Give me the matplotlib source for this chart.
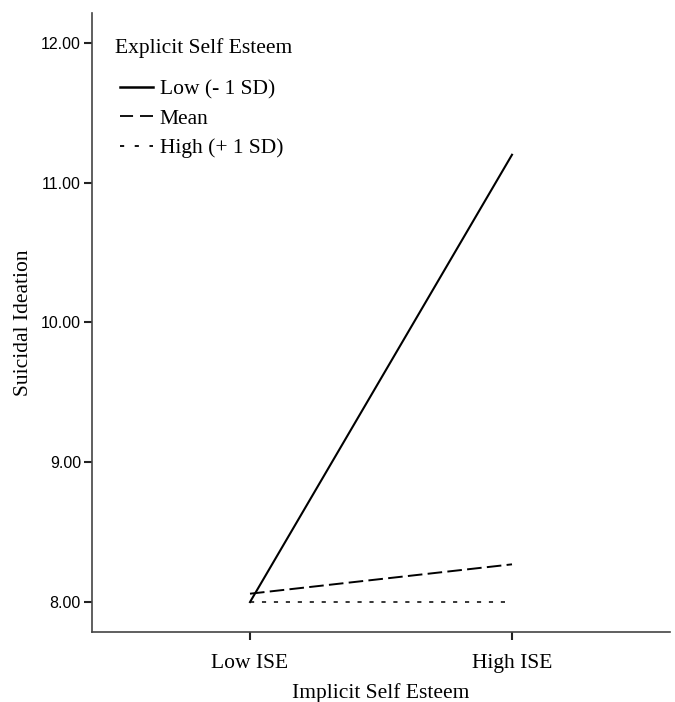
import matplotlib
matplotlib.use("Agg")
import matplotlib.pyplot as plt
from matplotlib.lines import Line2D

categories = ["Low ISE", "High ISE"]
low_sd = [8.00, 11.20]
mean_vals = [8.06, 8.27]
high_sd = [8.00, 8.00]
series_labels = ["Low (- 1 SD)", "Mean", "High (+ 1 SD)"]
legend_title = "Explicit Self Esteem"
yticks = [8.0, 9.0, 10.0, 11.0, 12.0]

plt.rcParams["lines.scale_dashes"] = False

fig = plt.figure(figsize=(6.75, 7.02), dpi=100)
ax = fig.add_axes([92/675, 70/702, 578/675, 619/702])

x = list(range(len(categories)))
serif = "Liberation Serif"
fs = 15.5
ax.plot(x, low_sd, color="black", lw=1.5, ls="-")
ax.plot(x, mean_vals, color="black", lw=1.4, ls=(0, (10.5, 3.8)))
ax.plot(x, high_sd, color="black", lw=1.1, ls=(0, (3.0, 5.6)))

ax.set_xlim(-0.603, 1.603)
ax.set_ylim(7.786, 12.214)
ax.set_xticks(x)
ax.set_xticklabels(categories, fontfamily=serif, fontsize=fs)
ax.set_yticks(yticks)
ax.set_yticklabels([f"{v:.2f}" for v in yticks], fontfamily="Liberation Sans", fontsize=11.5)
ax.tick_params(axis="both", direction="out", length=6, width=1.5, color="#222222")
ax.tick_params(axis="x", pad=9.5)
ax.tick_params(axis="y", pad=2)

for s in ["top", "right"]:
    ax.spines[s].set_visible(False)
for s in ["left", "bottom"]:
    ax.spines[s].set_linewidth(1.2)
    ax.spines[s].set_color("#444444")

ax.set_ylabel("Suicidal Ideation", fontfamily=serif, fontsize=fs, labelpad=6)
ax.set_xlabel("Implicit Self Esteem", fontfamily=serif, fontsize=fs, labelpad=7.5)

handles = [
    Line2D([], [], color="black", lw=1.8, ls="-"),
    Line2D([], [], color="black", lw=1.3, ls=(0, (9.4, 5.0))),
    Line2D([], [], color="black", lw=1.3, ls=(0, (3.0, 7.6))),
]
ax.text((115-92)/578, (632-48)/619, legend_title, transform=ax.transAxes,
        fontfamily=serif, fontsize=fs, ha="left", va="center")
ax.legend(handles, series_labels, loc="upper left", bbox_to_anchor=((120-92)/578, (632-79)/619),
          frameon=False, handlelength=1.55, handletextpad=0.3, labelspacing=0.44,
          borderpad=0, borderaxespad=0,
          prop={"family": serif, "size": fs})

fig.savefig("out.png", dpi=100)
